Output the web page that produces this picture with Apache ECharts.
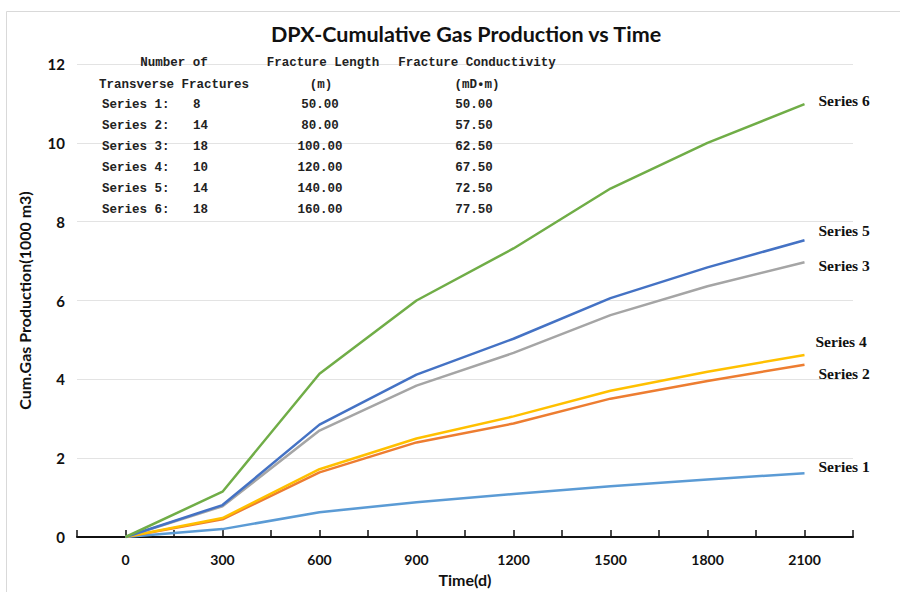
<!DOCTYPE html>
<html><head><meta charset="utf-8">
<script src="https://cdn.jsdelivr.net/npm/echarts@6/dist/echarts.min.js"></script>
<style>html,body{margin:0;padding:0;background:#fff}#c{width:900px;height:592px}</style>
</head><body><div id="c"></div>
<script>
const times = [0, 300, 600, 900, 1200, 1500, 1800, 2100];
const seriesNames = ['Series 1','Series 2','Series 3','Series 4','Series 5','Series 6'];
const series1 = [0, 0.20, 0.63, 0.88, 1.09, 1.29, 1.46, 1.62];
const series2 = [0, 0.45, 1.64, 2.40, 2.88, 3.51, 3.96, 4.37];
const series3 = [0, 0.78, 2.70, 3.84, 4.67, 5.63, 6.36, 6.97];
const series4 = [0, 0.48, 1.72, 2.50, 3.06, 3.71, 4.19, 4.62];
const series5 = [0, 0.81, 2.85, 4.12, 5.03, 6.06, 6.84, 7.53];
const series6 = [0, 1.15, 4.14, 6.00, 7.32, 8.84, 10.00, 10.98];
const xTickLabels = ['0','300','600','900','1200','1500','1800','2100'];
const yTickLabels = ['0','2','4','6','8','10','12'];
const tableHeader1 = ['Number of', 'Fracture Length', 'Fracture Conductivity'];
const tableHeader2 = ['Transverse Fractures', '(m)', '(mD\u2022m)'];
const tableNumFractures = ['8','14','18','10','14','18'];
const tableLength = ['50.00','80.00','100.00','120.00','140.00','160.00'];
const tableConductivity = ['50.00','57.50','62.50','67.50','72.50','77.50'];

const allData = [series1, series2, series3, series4, series5, series6];
const colors = ['#5B9BD5','#ED7D31','#A5A5A5','#FFC000','#4472C4','#70AD47'];
const labelOffsets = [[14,-7],[14,9],[14,3],[11,-13],[14,-10],[14,-4]];
const drawOrder = [0,1,3,2,4,5];

const chart = echarts.init(document.getElementById('c'), null, {renderer:'svg'});
const sans = 'Lato, "Open Sans", sans-serif';
const mono = '"Liberation Mono", "DejaVu Sans Mono", monospace';
const tableFont = 'bold 12.5px ' + mono;

const graphics = [
  {type:'rect', shape:{x:6.5,y:11.5,width:1000,height:1000}, style:{fill:'none', stroke:'#d9d9d9', lineWidth:1}, z:0, silent:true}
];
function txt(s, x, y, align) {
  graphics.push({type:'text', x:x, y:y, style:{text:s, font:tableFont, fill:'#222', textAlign:align||'left', textVerticalAlign:'middle'}, z:10});
}
txt(tableHeader1[0], 174, 63, 'center');
txt(tableHeader1[1], 323, 63, 'center');
txt(tableHeader1[2], 477, 63, 'center');
txt(tableHeader2[0], 174, 85, 'center');
txt(tableHeader2[1], 321, 85, 'center');
txt(tableHeader2[2], 477, 85, 'center');
for (let i = 0; i < 6; i++) {
  const y = 105 + i * 21;
  txt(seriesNames[i] + ':', 102, y, 'left');
  txt(tableNumFractures[i], 193, y, 'left');
  txt(tableLength[i], 320, y, 'center');
  txt(tableConductivity[i], 474, y, 'center');
}

const series = drawOrder.map(i => ({
  name: seriesNames[i],
  type: 'line',
  data: times.map((t, k) => [t, allData[i][k]]),
  showSymbol: false,
  symbol: 'none',
  lineStyle: {color: colors[i], width: 2.5},
  itemStyle: {color: colors[i]},
  endLabel: {
    show: true,
    formatter: seriesNames[i],
    color: '#111',
    fontFamily: '"Liberation Serif", "Times New Roman", serif',
    fontWeight: 'bold',
    fontSize: 15.5,
    offset: labelOffsets[i],
    distance: 0
  },
  animation: false
}));

chart.setOption({
  animation: false,
  backgroundColor: '#fff',
  title: {
    text: 'DPX-Cumulative Gas Production vs Time',
    left: 461, top: 18, textAlign: 'center',
    textStyle: {fontFamily: sans, fontWeight: 'bold', fontSize: 21.5, color: '#111'}
  },
  grid: {left: 77, right: 47, top: 64, bottom: 51},
  xAxis: {
    type: 'value', min: -150, max: 2250, interval: 150,
    name: 'Time(d)', nameLocation: 'middle', nameGap: 34,
    nameTextStyle: {fontFamily: sans, fontWeight: 'bold', fontSize: 16, color: '#111'},
    axisLine: {show: true, onZero: false, lineStyle: {color: '#111', width: 2}},
    axisTick: {show: true, inside: true, length: 7, lineStyle: {color: '#111', width: 1.5}},
    axisLabel: {
      margin: 15, fontFamily: sans, fontWeight: 'bold', fontSize: 14, color: '#111',
      formatter: v => { const idx = times.indexOf(v); return idx >= 0 ? xTickLabels[idx] : ''; }
    },
    splitLine: {show: false}
  },
  yAxis: {
    type: 'value', min: 0, max: 12, interval: 2,
    name: 'Cum.Gas Production(1000 m3)', nameLocation: 'middle', nameGap: 45,
    nameTextStyle: {fontFamily: sans, fontWeight: 'bold', fontSize: 16, color: '#111'},
    axisLine: {show: false}, axisTick: {show: false},
    axisLabel: {
      margin: 12, fontFamily: sans, fontWeight: 'bold', fontSize: 15, color: '#111',
      formatter: v => yTickLabels[Math.round(v / 2)] ?? ''
    },
    splitLine: {show: true, lineStyle: {color: '#e3e3e3', width: 1}}
  },
  graphic: graphics,
  series: series
});
</script></body></html>
